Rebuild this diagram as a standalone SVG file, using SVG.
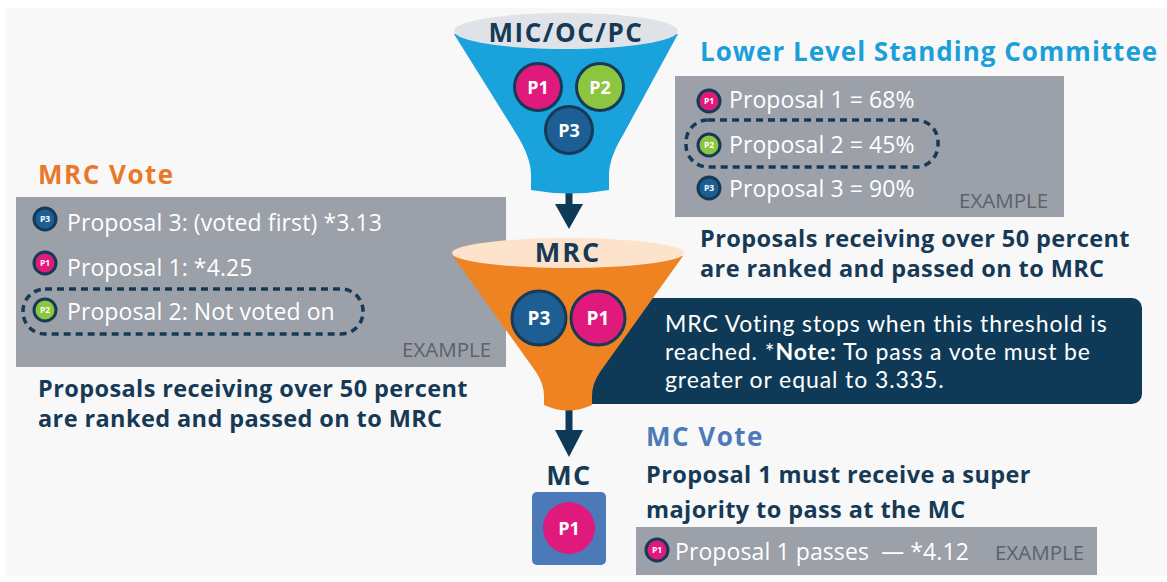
<svg xmlns="http://www.w3.org/2000/svg" width="1167" height="582" viewBox="0 0 1167 582">
<defs>
<style>
.bg{fill:#f8f8f9}
.hd{font-family:"Open Sans","Liberation Sans",sans-serif;font-weight:700}
.title{font-size:26px;letter-spacing:1.5px}
.para{font-size:23.5px;letter-spacing:0.4px}
.navy{fill:#163a56}
.lt{font-family:"Open Sans","Liberation Sans",sans-serif;font-weight:400;fill:#ffffff;font-size:23px;letter-spacing:0.1px}
.note{font-family:Lato,"Open Sans","Liberation Sans",sans-serif;font-weight:400;fill:#ffffff;font-size:23px;letter-spacing:0.9px}
.ex{font-family:"Open Sans","Liberation Sans",sans-serif;font-weight:400;fill:#5b626c;font-size:20.5px}
.panel{fill:#9ba0a9}
.dash{fill:none;stroke:#163a56;stroke-width:3.5;stroke-dasharray:7 5}
.pc{stroke:#163a56;stroke-width:3}
.p1{fill:#e0197d}
.p2{fill:#8cc540}
.p3{fill:#1d5e95}
.bl{font-family:"Open Sans","Liberation Sans",sans-serif;font-weight:700;fill:#ffffff;text-anchor:middle}
.sm{font-size:8.5px}
.arrow{fill:#0f3a57}
</style>
</defs>
<rect width="1167" height="582" fill="#ffffff"/>
<rect class="bg" x="6" y="8" width="1161" height="568"/>

<g id="connectors">
<rect class="arrow" x="565.5" y="162" width="7" height="46" rx="3.5"/>
<polygon class="arrow" points="555,204 583,204 569,229"/>
<rect class="arrow" x="565.5" y="348" width="7" height="86" rx="3.5"/>
<polygon class="arrow" points="555,430 583,430 569,457"/>
</g>

<g id="lower-level-panel">
<text class="hd" x="700" y="61" font-size="26" letter-spacing="1" fill="#1a9fd9">Lower Level Standing Committee</text>
<rect class="panel" x="675" y="76" width="389" height="141"/>
<circle class="pc p1" cx="709" cy="101" r="11"/><text class="bl sm" x="709" y="104">P1</text>
<text class="lt" x="729" y="108">Proposal 1 = 68%</text>
<rect class="dash" x="686" y="120" width="252" height="47" rx="22"/>
<circle class="pc p2" cx="709" cy="145" r="11"/><text class="bl sm" x="709" y="148">P2</text>
<text class="lt" x="729" y="153">Proposal 2 = 45%</text>
<circle class="pc p3" cx="709" cy="188" r="11"/><text class="bl sm" x="709" y="191">P3</text>
<text class="lt" x="729" y="197">Proposal 3 = 90%</text>
<text class="ex" x="959" y="208">EXAMPLE</text>
<text class="hd navy para" x="700" y="247">Proposals receiving over 50 percent</text>
<text class="hd navy para" x="700" y="277">are ranked and passed on to MRC</text>
</g>

<g id="mrc-vote-panel">
<text class="hd title" x="38" y="184" fill="#e8792a">MRC Vote</text>
<rect class="panel" x="16" y="197" width="490" height="170"/>
<circle class="pc p3" cx="45" cy="219" r="11"/><text class="bl sm" x="45" y="222">P3</text>
<text class="lt" x="67" y="231">Proposal 3: (voted first) *3.13</text>
<circle class="pc p1" cx="45" cy="263" r="11"/><text class="bl sm" x="45" y="266">P1</text>
<text class="lt" x="67" y="276">Proposal 1: *4.25</text>
<rect class="dash" x="23" y="289" width="340" height="45" rx="22"/>
<circle class="pc p2" cx="45" cy="310" r="11"/><text class="bl sm" x="45" y="313">P2</text>
<text class="lt" x="67" y="320">Proposal 2: Not voted on</text>
<text class="ex" x="402" y="357">EXAMPLE</text>
<text class="hd navy para" x="38" y="397">Proposals receiving over 50 percent</text>
<text class="hd navy para" x="38" y="427">are ranked and passed on to MRC</text>
</g>

<g id="note-box">
<rect x="560" y="298" width="582" height="106" rx="10" fill="#0f3a57"/>
<text class="note" x="665" y="332">MRC Voting stops when this threshold is</text>
<text class="note" x="665" y="360">reached. *<tspan font-weight="700">Note:</tspan> To pass a vote must be</text>
<text class="note" x="665" y="388">greater or equal to 3.335.</text>
</g>

<g id="funnel-top">
<path d="M454,34 L517,135 Q531,158 531,175 L531,190 Q570,197 609,190 L609,175 Q609,158 623,135 L678,34 Z" fill="#1aa2dc"/>
<ellipse cx="566" cy="31" rx="112" ry="18" fill="#dfe3e8"/>
<text class="hd navy title" x="566" y="42" text-anchor="middle">MIC/OC/PC</text>
<circle class="pc p1" cx="538" cy="87" r="23.5"/><text class="bl" x="538" y="94" font-size="18">P1</text>
<circle class="pc p2" cx="600" cy="87" r="23.5"/><text class="bl" x="600" y="94" font-size="18">P2</text>
<circle class="pc p3" cx="569" cy="130" r="23.5"/><text class="bl" x="569" y="137" font-size="18">P3</text>
</g>

<g id="funnel-mrc">
<path d="M453,256 L536,372 Q544,384 544,396 L544,405 Q568,416 592,405 L592,396 Q592,384 600,372 L683,256 Z" fill="#ef8322"/>
<ellipse cx="568" cy="253" rx="116" ry="15" fill="#fde3cc"/>
<text class="hd navy" x="568" y="262" font-size="27" letter-spacing="2" text-anchor="middle">MRC</text>
<circle class="pc p3" cx="539" cy="318" r="27"/><text class="bl" x="539" y="325" font-size="19">P3</text>
<circle class="pc p1" cx="598" cy="318" r="27"/><text class="bl" x="598" y="325" font-size="19">P1</text>
</g>

<g id="mc-node">
<text class="hd navy" x="569" y="485" font-size="27" letter-spacing="1.5" text-anchor="middle">MC</text>
<rect x="532" y="492" width="74" height="73" rx="5" fill="#4c7ab8"/>
<circle class="p1" cx="569" cy="528" r="26"/><text class="bl" x="569" y="535" font-size="18">P1</text>
</g>

<g id="mc-vote-panel">
<text class="hd title" x="646" y="446" fill="#4c7ab8">MC Vote</text>
<text class="hd navy para" x="646" y="483">Proposal 1 must receive a super</text>
<text class="hd navy para" x="646" y="518">majority to pass at the MC</text>
<rect class="panel" x="636" y="527" width="461" height="48"/>
<circle class="pc p1" cx="657" cy="550" r="11"/><text class="bl sm" x="657" y="553">P1</text>
<text class="lt" x="675" y="560" xml:space="preserve">Proposal 1 passes  — *4.12</text>
<text class="ex" x="995" y="560">EXAMPLE</text>
</g>
</svg>
